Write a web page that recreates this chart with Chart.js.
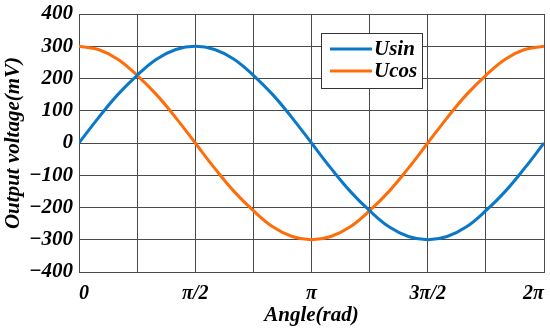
<!DOCTYPE html>
<html>
<head>
<meta charset="utf-8">
<script src="https://cdn.jsdelivr.net/npm/chart.js@4.4.0/dist/chart.umd.min.js"></script>
<style>
  html, body { margin: 0; padding: 0; background: #fff; }
  #wrap { width: 550px; height: 330px; }
</style>
</head>
<body>
<div id="wrap"><canvas id="canvas"></canvas></div>
<script>
// angle in degrees (0..360 => 0..2π)
const angles = [0, 15, 30, 45, 60, 75, 90, 105, 120, 135, 150, 165, 180,
    195, 210, 225, 240, 255, 270, 285, 300, 315, 330, 345, 360];
const usin = [0, 78, 150, 210, 260, 290, 300, 290, 260, 210, 150, 78, 0,
    -78, -150, -210, -260, -290, -300, -290, -260, -210, -150, -78, 0];
const ucos = [300, 290, 260, 210, 150, 78, 0, -78, -150, -210, -260, -290, -300,
    -290, -260, -210, -150, -78, 0, 78, 150, 210, 260, 290, 300];
const xTickLabels = {0: '0', 90: 'π/2', 180: 'π', 270: '3π/2', 360: '2π'};

const FONT = '"Liberation Serif", "Times New Roman", serif';
const gridColor = '#4a4a4a';

// legend drawn as a boxed overlay like the original figure
const boxLegend = {
    id: 'boxLegend',
    afterDraw(chart) {
        const ctx = chart.ctx;
        const x0 = 321, y0 = 33, w = 101, h = 55;
        ctx.save();
        ctx.fillStyle = '#fff';
        ctx.fillRect(x0, y0, w, h);
        ctx.strokeStyle = '#333';
        ctx.lineWidth = 1;
        ctx.strokeRect(x0 + 0.5, y0 + 0.5, w, h);
        const rows = [49, 71];
        chart.data.datasets.forEach((ds, i) => {
            ctx.strokeStyle = ds.borderColor;
            ctx.lineWidth = 3;
            ctx.beginPath();
            ctx.moveTo(330, rows[i]);
            ctx.lineTo(372, rows[i]);
            ctx.stroke();
            ctx.fillStyle = '#000';
            ctx.font = 'italic bold 21px ' + FONT;
            ctx.textBaseline = 'middle';
            ctx.fillText(ds.label, 374, rows[i] + 1);
        });
        ctx.restore();
    }
};

new Chart(document.getElementById('canvas').getContext('2d'), {
    type: 'line',
    data: {
        datasets: [{
            label: 'Usin',
            data: angles.map((a, i) => ({x: a, y: usin[i]})),
            borderColor: '#0a78c8',
            borderWidth: 3,
            pointRadius: 0,
            tension: 0.4
        }, {
            label: 'Ucos',
            data: angles.map((a, i) => ({x: a, y: ucos[i]})),
            borderColor: '#ff6d0a',
            borderWidth: 3,
            pointRadius: 0,
            tension: 0.4
        }]
    },
    options: {
        responsive: true,
        maintainAspectRatio: false,
        animation: false,
        layout: {padding: {top: 14, right: 6, bottom: 0, left: 0}},
        plugins: {
            legend: {display: false},
            tooltip: {enabled: false}
        },
        scales: {
            x: {
                type: 'linear',
                min: 0,
                max: 360,
                grid: {color: gridColor, lineWidth: 1, drawTicks: false},
                border: {color: gridColor, width: 1},
                ticks: {
                    stepSize: 45,
                    autoSkip: false,
                    maxRotation: 0,
                    align: 'inner',
                    padding: 10,
                    color: '#000',
                    font: {family: FONT, size: 20, style: 'italic', weight: 'bold'},
                    callback: (v) => xTickLabels[v] !== undefined ? xTickLabels[v] : ''
                },
                title: {
                    display: true,
                    text: 'Angle(rad)',
                    color: '#000',
                    padding: {top: 0, bottom: 2},
                    font: {family: FONT, size: 21, style: 'italic', weight: 'bold'}
                },
                afterFit(scale) {
                    scale.height = 58;
                    scale.paddingLeft = 0;
                    scale.paddingRight = 0;
                }
            },
            y: {
                min: -400,
                max: 400,
                grid: {color: gridColor, lineWidth: 1, drawTicks: false},
                border: {color: gridColor, width: 1},
                ticks: {
                    stepSize: 100,
                    padding: 6,
                    color: '#000',
                    font: {family: FONT, size: 21, style: 'italic', weight: 'bold'},
                    callback: (v) => String(v).replace('-', '\u2212')
                },
                title: {
                    display: true,
                    text: 'Output voltage(mV)',
                    color: '#000',
                    padding: {top: 1, bottom: 0},
                    font: {family: FONT, size: 21, style: 'italic', weight: 'bold'}
                },
                afterFit(scale) {
                    scale.width = 79;
                    scale.paddingTop = 0;
                    scale.paddingBottom = 0;
                }
            }
        }
    },
    plugins: [boxLegend]
});
</script>
</body>
</html>
